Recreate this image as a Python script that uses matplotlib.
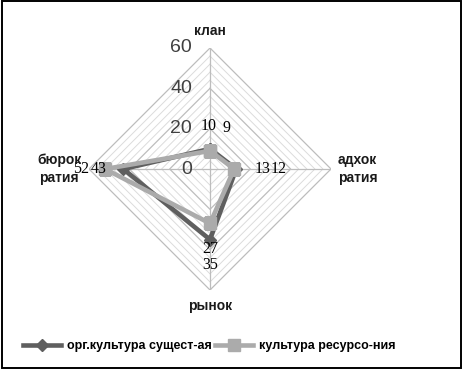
import numpy as np
import matplotlib
matplotlib.use("Agg")
import matplotlib.pyplot as plt
from matplotlib.patches import Rectangle

# данные диаграммы
categories = ["клан", "адхок\nратия", "рынок", "бюрок\nратия"]
org_current = [10, 13, 35, 43]      # орг.культура сущест-ая
org_resource = [9, 12, 27, 52]      # культура ресурсо-ния
r_ticks = [0, 20, 40, 60]
series_names = ["орг.культура сущест-ая", "культура ресурсо-ния"]

W, H = 466, 375
DPI = 100
fig = plt.figure(figsize=(W / DPI, H / DPI), dpi=DPI)

# центр диаграммы и радиус в пикселях
cx, cy, rad = 210, 169, 121
ax = fig.add_axes([(cx - rad) / W, (H - cy - rad) / H, 2 * rad / W, 2 * rad / H],
                  projection="polar")
ax.set_theta_zero_location("N")
ax.set_theta_direction(-1)
ax.set_ylim(0, 60)
ax.grid(False)
ax.spines["polar"].set_visible(False)
ax.set_xticks([])
ax.set_yticks([])
ax.patch.set_alpha(0)

n = len(categories)
theta = np.arange(n) * 2 * np.pi / n
theta_c = np.append(theta, theta[0])

# многоугольная сетка
for r in range(4, 61, 4):
    major = r % 20 == 0
    ax.plot(theta_c, [r] * (n + 1), color="#bdbdbd" if major else "#dcdcdc",
            lw=0.9 if major else 0.7, zorder=1)
for t in theta:
    ax.plot([t, t], [0, 60], color="#bdbdbd", lw=0.9, zorder=1)

px = 0.72  # пиксели -> точки

# подписи шкалы
for r in r_ticks:
    ax.annotate(str(r), (0, r), xytext=(-18 * px, 0), textcoords="offset points",
                ha="right", va="center", fontsize=14, color="#404040",
                family="Liberation Sans")

# ряды
ax.plot(theta_c, org_current + org_current[:1], color="#5f5f5f", lw=3.3,
        marker="D", ms=6.5, zorder=3, label=series_names[0])
ax.plot(theta_c, org_resource + org_resource[:1], color="#ababab", lw=3.3,
        marker="s", ms=8.5, zorder=4, label=series_names[1])

# подписи значений (смещения в пикселях)
off_cur = [(-1, 23), (26, 0), (0, -25), (-25, 0)]
off_res = [(17, 23), (44, 0), (0, -26), (-24, 0)]
for vals, offs in ((org_current, off_cur), (org_resource, off_res)):
    for t, v, (dx, dy) in zip(theta, vals, offs):
        ax.annotate(str(v), (t, v), xytext=(dx * px, dy * px),
                    textcoords="offset points", ha="center", va="center",
                    fontsize=11.5, color="black", family="Liberation Serif",
                    zorder=5)

# подписи категорий
lab_kw = dict(fontsize=10, fontweight="bold", family="Liberation Sans",
              color="#1a1a1a", linespacing=1.45)
fig.text(210 / W, 1 - 31 / H, categories[0], ha="center", va="center", **lab_kw)
fig.text(338 / W, 1 - 169 / H, categories[1], ha="left", va="center", **lab_kw)
fig.text(210 / W, 1 - 306 / H, categories[2], ha="center", va="center", **lab_kw)
fig.text(59 / W, 1 - 169 / H, categories[3], ha="center", va="center", **lab_kw)

# легенда
fig.legend(loc="center left", bbox_to_anchor=(18 / W, 1 - 346 / H), ncol=2,
           frameon=False, handlelength=3.0, handletextpad=0.5,
           columnspacing=0.3, borderaxespad=0,
           prop={"family": "Liberation Sans", "weight": "bold", "size": 9})

# рамка
fig.patches.append(Rectangle((2 / W, 1 - 368 / H), 459 / W, 367.5 / H,
                             transform=fig.transFigure, fill=False,
                             edgecolor="black", lw=1.4))

fig.savefig("out.png", dpi=DPI)
